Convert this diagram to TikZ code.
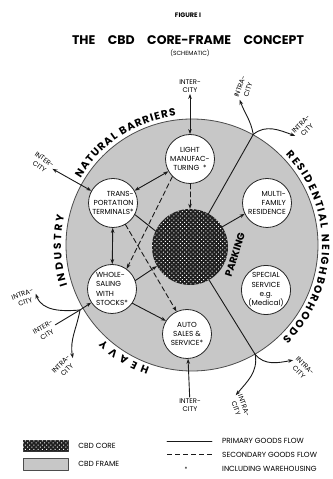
\documentclass[tikz,border=0pt]{standalone}
\usepackage{fontspec}
\setmainfont{Poppins}
\usetikzlibrary{arrows.meta,positioning,decorations.text,patterns.meta}

\begin{document}
\begin{tikzpicture}[x=1pt,y=1pt,>={Stealth[length=5pt,width=3.6pt]},line cap=round,line join=round,
  place/.style={circle,draw=black!85,line width=0.8pt,fill=white,minimum size=49pt,inner sep=0pt,align=center,
    font=\fontsize{7.3}{9.3}\selectfont},
  city/.style={align=center,inner sep=1pt,font=\fontsize{6.8}{8.6}\selectfont},
  flow/.style={line width=0.9pt,draw=black!90},
  secondary/.style={flow,dash pattern=on 5pt off 3pt},
  legend/.style={anchor=west,inner sep=0pt,font=\fontsize{7.4}{8}\selectfont},
  dotty/.style={pattern={Dots[distance=3pt,radius=0.7pt,angle=45]},pattern color=white},
  ring/.style={decorate,decoration={text along path,text align={fit to path},
    text={|\bfseries\fontsize{10.5}{10.5}\selectfont|#1}}}]
  \useasboundingbox (0,0) rectangle (332,479);

  % title
  \node[font=\bfseries\fontsize{6.5}{7}\selectfont] (fig) at (188,464) {FIGURE I};
  \node[font=\bfseries\fontsize{12.5}{13}\selectfont] (title) at (188,439) {THE\quad CBD\quad CORE-FRAME\quad CONCEPT};
  \node[font=\fontsize{6}{6}\selectfont] (sub) at (190,426) {(SCHEMATIC)};

  % frame and core
  \node[circle,draw=black!70,line width=0.8pt,fill=black!22,minimum size=252pt,inner sep=0pt] (frame) at (192,234) {};
  \node[circle,fill=black!88,postaction={dotty},minimum size=76pt,inner sep=0pt] (core) at (190,232) {};

  % ring labels
  \path[ring=NATURAL BARRIERS] (frame.center) ++(149:130) arc[start angle=149,end angle=97,radius=130];
  \path[ring=RESIDENTIAL NEIGHBORHOODS] (frame.center) ++(44:130) arc[start angle=44,end angle=-46,radius=130];
  \path[ring=INDUSTRY] (frame.center) ++(198:131) arc[start angle=198,end angle=167,radius=131];
  \path[ring=HEAVY] (frame.center) ++(251:130) arc[start angle=251,end angle=227,radius=130];
  \node[font=\bfseries\fontsize{10}{10}\selectfont,rotate=72] (park) at (235,224) {PARKING};

  % land uses
  \node[place] (light) at (190,320) {LIGHT\\MANUFAC-\\TURING\ \ *};
  \node[place,align=right] (trans) at (113,276) {TRANS-\\PORTATION\\TERMINALS*};
  \node[place,align=left] (whole) at (112,190) {WHOLE-\\SALING\\WITH\\STOCKS*};
  \node[place] (auto) at (187,145) {AUTO\\SALES \&\\SERVICE*};
  \node[place,align=right] (multi) at (267,276) {MULTI-\\FAMILY\\RESIDENCE};
  \node[place] (special) at (266,189) {SPECIAL\\SERVICE\\e.g.\\(Medical)};

  % outside labels
  \node[city] (ictop) at (190,393) {INTER-\\CITY};
  \node[city,rotate=-35] (icnw) at (42,316) {INTER-\\CITY};
  \node[city] (icbot) at (190,74) {INTER-\\CITY};
  \node[city,rotate=30] (icsw) at (45,148) {INTER-\\CITY};
  \node[city,rotate=70] (irn) at (244,391) {INTRA-\\CITY};
  \node[city,rotate=45] (irne) at (304,352) {INTRA-\\CITY};
  \node[city,rotate=-70] (irs) at (240,72) {INTRA-\\CITY};
  \node[city,rotate=-45] (irse) at (302,110) {INTRA-\\CITY};
  \node[city,rotate=20] (irw) at (24,181) {INTRA-\\CITY};
  \node[city,rotate=45] (irsw) at (64,112) {INTRA-\\CITY};

  % goods flows
  \draw[flow,<->] (trans) -- (light);
  \draw[flow,<->] (trans) -- (whole);
  \draw[flow] (trans.-28) -- (core.155);
  \draw[flow,->] (whole.20) -- (core.210);
  \draw[flow,->] (whole.-35) -- (auto.148);
  \draw[flow,->] (core.32) -- (multi.206);
  \draw[secondary,->] (light) -- (core);
  \draw[secondary,->] (light.225) -- (whole.54);
  \draw[secondary,->] (trans.-60) -- (auto.115);

  % links to the outside
  \coordinate (ne) at (frame.61);
  \coordinate (se) at (frame.-60);
  \coordinate (sw) at (80,169);
  \draw[flow] (core.61) -- (ne);
  \draw[flow] (core.-60) -- (se);
  \draw[flow,->] (ne) to[out=100,in=-70] (irn.west);
  \draw[flow,->] (ne) to[out=40,in=160] (irne.west);
  \draw[flow,->] (se) to[out=-80,in=50] (irs.west);
  \draw[flow,->] (se) to[out=-50,in=190] (irse.west);
  \draw[flow] (icsw) -- (sw);
  \draw[flow,->] (sw) -- (whole);
  \draw[flow,->] (sw) to[out=185,in=-70] (irw.east);
  \draw[flow,->] (sw) to[out=-100,in=100] (irsw.east);
  \draw[flow,<->] (ictop) -- (light);
  \draw[flow,<->] (icnw) -- (trans);
  \draw[flow,->] (icbot) -- (auto);

  % legend
  \node[draw=black!80,fill=black!88,postaction={dotty},minimum width=45pt,minimum height=11pt,inner sep=0pt] (corekey) at (45.5,33.5) {};
  \node[draw=black!70,fill=black!22,minimum width=45pt,minimum height=12pt,inner sep=0pt] (framekey) at (45.5,15) {};
  \node[legend,right=10pt of corekey] (coretext) {CBD CORE};
  \node[legend,right=10pt of framekey] (frametext) {CBD FRAME};
  \node[legend] (primtext) at (222,38) {PRIMARY GOODS FLOW};
  \node[legend] (sectext) at (222,24) {SECONDARY GOODS FLOW};
  \node[legend] (whtext) at (222,10) {INCLUDING WAREHOUSING};
  \draw[flow] (167,38) -- (212,38);
  \draw[secondary,line cap=butt] (167,25) -- (212,25);
  \node[font=\fontsize{6}{6}\selectfont] (star) at (186,10) {*};
\end{tikzpicture}
\end{document}
